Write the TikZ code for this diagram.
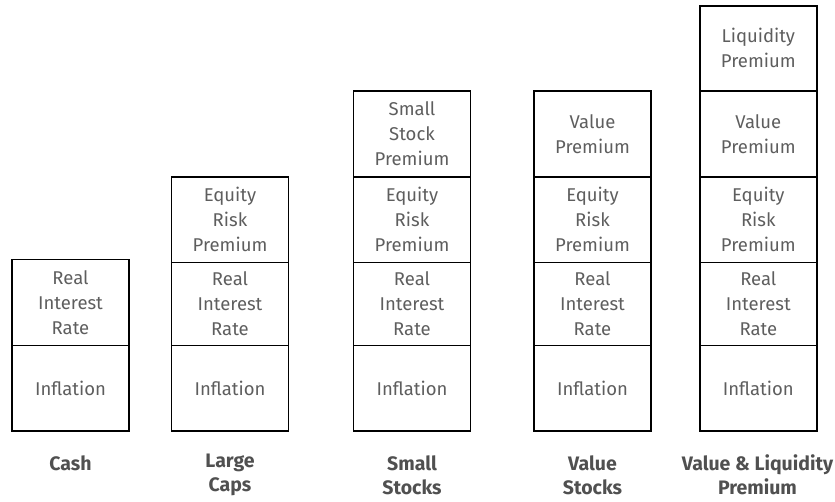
\documentclass[tikz,border=0pt]{standalone}
\usepackage{fontspec}
\setmainfont{Fira Sans}
\definecolor{celltext}{HTML}{5E5E5E}
\definecolor{labeltext}{HTML}{505050}
\begin{document}
\begin{tikzpicture}[x=1pt,y=-1pt,
  cell/.style={draw=black, line width=1.8pt, minimum width=117pt, inner sep=0pt,
    align=center, font=\fontsize{18.5}{25}\selectfont, text=celltext},
  caption/.style={align=center, font=\bfseries\fontsize{19.5}{24}\selectfont, text=labeltext}]
\useasboundingbox (0,0) rectangle (835,502);

% band from y=a to y=b, centred on column x
\newcommand{\band}[5]{%
  \node[cell, minimum height={#3-#2}] (#4) at (#1,{(#2+#3)/2}) {#5};}

% Cash
\band{70.5}{345.5}{431}{cash-inf}{Inflation}
\band{70.5}{259.5}{345.5}{cash-rir}{Real\\Interest\\Rate}
\node[caption] (cash-lbl) at (70.5,463) {Cash};

% Large caps
\band{230}{345.5}{431}{lc-inf}{Inflation}
\band{230}{262.5}{345.5}{lc-rir}{Real\\Interest\\Rate}
\band{230}{176.7}{262.5}{lc-erp}{Equity\\Risk\\Premium}
\node[caption] (lc-lbl) at (230,475) {Large\\Caps};

% Small stocks
\band{412}{345.5}{431}{ss-inf}{Inflation}
\band{412}{262.5}{345.5}{ss-rir}{Real\\Interest\\Rate}
\band{412}{176.7}{262.5}{ss-erp}{Equity\\Risk\\Premium}
\band{412}{90.7}{176.7}{ss-ssp}{Small\\Stock\\Premium}
\node[caption] (ss-lbl) at (412,475) {Small\\Stocks};

% Value stocks
\band{592.5}{345.5}{431}{vs-inf}{Inflation}
\band{592.5}{262.5}{345.5}{vs-rir}{Real\\Interest\\Rate}
\band{592.5}{176.7}{262.5}{vs-erp}{Equity\\Risk\\Premium}
\band{592.5}{90.7}{176.7}{vs-vp}{Value\\Premium}
\node[caption] (vs-lbl) at (592.5,475) {Value\\Stocks};

% Value & liquidity premium
\band{758.3}{345.5}{431}{vl-inf}{Inflation}
\band{758.3}{262.5}{345.5}{vl-rir}{Real\\Interest\\Rate}
\band{758.3}{176.7}{262.5}{vl-erp}{Equity\\Risk\\Premium}
\band{758.3}{90.7}{176.7}{vl-vp}{Value\\Premium}
\band{758.3}{6}{90.7}{vl-lp}{Liquidity\\Premium}
\node[caption] (vl-lbl) at (757.5,475) {Value \& Liquidity\\Premium};
\end{tikzpicture}
\end{document}
